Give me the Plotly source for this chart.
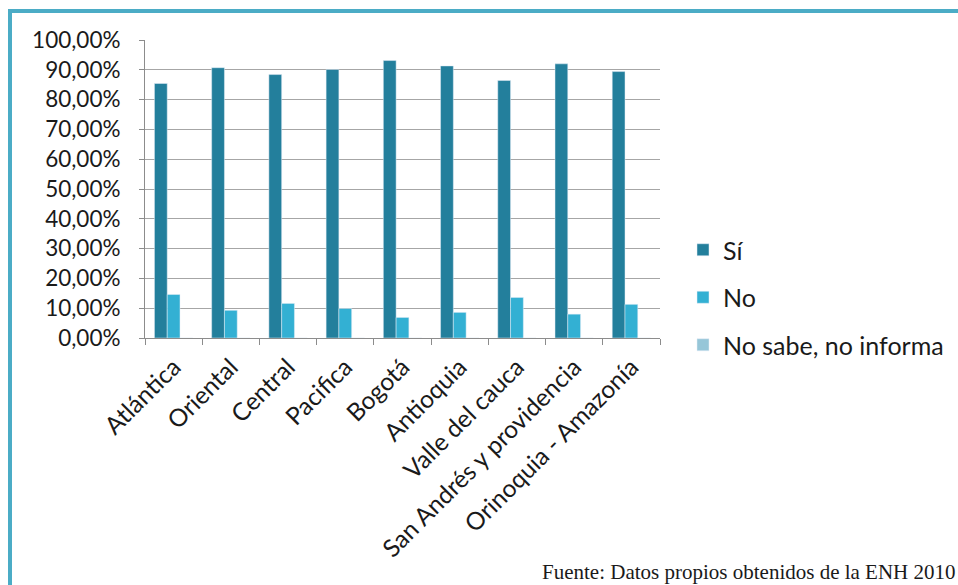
import plotly.graph_objects as go

categories = ["Atlántica", "Oriental", "Central", "Pacifica", "Bogotá", "Antioquia",
              "Valle del cauca", "San Andrés y providencia", "Orinoquia - Amazonía"]
si_vals = [0.854, 0.907, 0.884, 0.901, 0.931, 0.913, 0.864, 0.920, 0.894]
no_vals = [0.146, 0.093, 0.116, 0.099, 0.069, 0.086, 0.136, 0.080, 0.113]
nsni_vals = [0.0, 0.0, 0.0, 0.0, 0.0, 0.0, 0.0, 0.0, 0.0]
y_ticks = [i / 10 for i in range(11)]

FONT = "Lato"
fig = go.Figure()
fig.add_bar(x=categories, y=si_vals, name="Sí", marker_color="#237f9c", legendgroup="a")
fig.add_bar(x=categories, y=no_vals, name="No", marker_color="#33b0d3", legendgroup="b")
fig.add_bar(x=categories, y=nsni_vals, name="No sabe, no informa", marker_color="#96c6d8", legendgroup="c")

L, R, T, B = 145, 660, 40, 338
W, H = 958, 585
pw, ph = R - L, B - T
def px(x): return (x - L) / pw
def py(y): return (B - y) / ph

fig.update_layout(
    width=W, height=H,
    margin=dict(l=L, r=W - R, t=T, b=H - B, autoexpand=False),
    paper_bgcolor="white", plot_bgcolor="white",
    separators=",.",
    barmode="group", bargap=0.33, bargroupgap=0,
    font=dict(family=FONT, size=22, color="#1a1a1a"),
    showlegend=True,
    legend=dict(x=px(683), y=py(227), xanchor="left", yanchor="top",
                font=dict(family=FONT, size=25, color="#1a1a1a"),
                traceorder="grouped", tracegroupgap=12, itemwidth=30,
                bgcolor="rgba(0,0,0,0)"),
    xaxis=dict(showline=True, linecolor="#8c8c8c", linewidth=1,
               ticks="outside", ticklen=6, tickcolor="#8c8c8c", tickson="boundaries",
               tickangle=-45, ticklabelstandoff=4,
               tickfont=dict(family=FONT, size=24.5, color="#1a1a1a"),
               showgrid=False, fixedrange=True),
    yaxis=dict(range=[0, 1], tickvals=y_ticks, tickformat=".2%",
               showline=True, linecolor="#8c8c8c", linewidth=1,
               ticks="outside", ticklen=5, tickcolor="#8c8c8c", ticklabelstandoff=14,
               showgrid=True, gridcolor="#a6a6a6", gridwidth=1,
               tickfont=dict(family=FONT, size=22.5, color="#1a1a1a"),
               zeroline=False, fixedrange=True),
    shapes=[
        dict(type="line", xref="paper", yref="paper", x0=px(10), x1=px(10), y0=py(11), y1=py(600),
             line=dict(color="#4bacc6", width=4)),
        dict(type="line", xref="paper", yref="paper", x0=px(8), x1=px(970), y0=py(11), y1=py(11),
             line=dict(color="#4bacc6", width=4)),
    ],
    annotations=[
        dict(text="Fuente: Datos propios obtenidos de la ENH 2010", xref="paper", yref="paper",
             x=px(540), y=py(572), xanchor="left", yanchor="middle", showarrow=False,
             font=dict(family="Liberation Serif", size=21, color="#1a1a1a")),
    ],
)

fig.write_html("out.html")
